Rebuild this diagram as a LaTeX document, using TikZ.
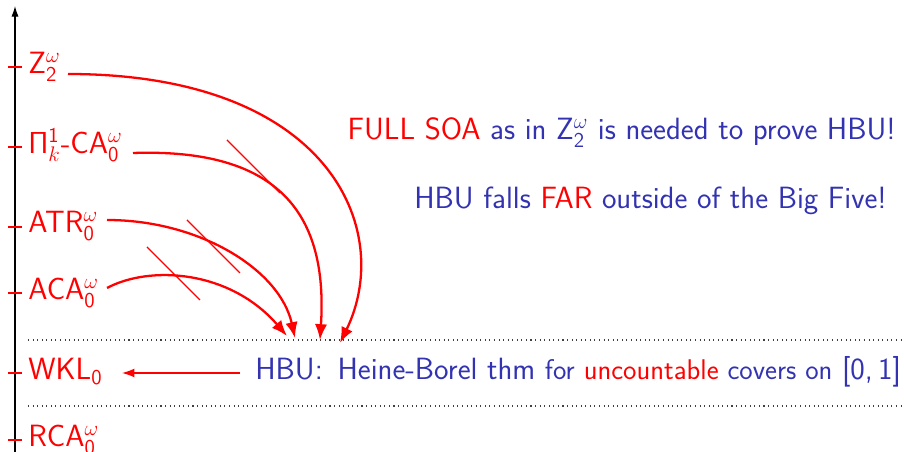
\documentclass[tikz,border=0pt]{standalone}
\usetikzlibrary{arrows.meta}
\definecolor{bblue}{rgb}{0.2,0.2,0.7}
\begin{document}
\begin{tikzpicture}[x=0.02cm,y=-0.02cm,
  font=\sffamily\fontsize{17.5}{20}\selectfont,
  lab/.style={text=red, anchor=base west, inner sep=0pt},
  txt/.style={text=bblue, anchor=base west, inner sep=0pt},
  tickmark/.style={red, line width=0.6pt},
  imp/.style={red, line width=1.3pt, -{Latex[length=9pt,width=7pt]}},
  nope/.style={red, line width=0.8pt},
  sep/.style={black!75, dotted, line width=0.6pt}]
\useasboundingbox (0,0) rectangle (904,452);
% axis
\coordinate (axb) at (15,452);
\coordinate (axt) at (15,6);
\draw[-{Latex[length=6pt,width=4pt]}, line width=0.6pt] (axb) -- (axt);
% ticks
\foreach \y in {67,147,227,293,373,440}
  \draw[tickmark] (8,\y) -- (22,\y);
% labels
\node[lab] (z2) at (28,74) {Z$^{\omega}_{\mathsf{2}}$};
\node[lab] (pi) at (28,154) {$\mathsf{\Pi}^{\mathsf{1}}_{k}$-CA$^{\omega}_{\mathsf{0}}$};
\node[lab] (atr) at (28,233) {ATR$^{\omega}_{\mathsf{0}}$};
\node[lab] (aca) at (28,300) {ACA$^{\omega}_{\mathsf{0}}$};
\node[lab] (wkl) at (28,380) {WKL$_{\mathsf{0}}$};
\node[lab] (rca) at (28,447) {RCA$^{\omega}_{\mathsf{0}}$};
% separators
\draw[sep] (28,340) -- (904,340);
\draw[sep] (28,406) -- (904,406);
% HBU
\node[txt] (hbu) at (255,380) {HBU:\ \,Heine-Borel thm {\fontsize{16.2}{19}\selectfont for \textcolor{red}{uncountable} covers on} [0,\,1]};
\coordinate (ws) at (240,373);
\coordinate (we) at (122,373);
\draw[red, line width=0.7pt, -{Latex[length=7pt,width=5pt]}] (ws) -- (we);
% right texts
\node[txt, anchor=base east] (t1) at (896,140) {\textcolor{red}{FULL SOA} as in Z$^{\omega}_{\mathsf{2}}$ is needed to prove HBU!};
\node[txt, anchor=base east] (t2) at (887,209) {HBU falls \textcolor{red}{FAR} outside of the Big Five!};
% implications
\coordinate (e1) at (340,343);
\coordinate (e2) at (320,340);
\coordinate (e3) at (295,338);
\coordinate (e4) at (287,336);
\draw[imp] (68,74) .. controls (330,74) and (395,230) .. (e1);
\draw[imp] (133,153) .. controls (280,148) and (328,215) .. (e2);
\draw[imp] (107,220) .. controls (200,220) and (280,270) .. (e3);
\draw[imp] (107,288) .. controls (150,265) and (230,270) .. (e4);
% strike-throughs
\draw[nope] (227,140) -- (280,193);
\draw[nope] (187,220) -- (240,273);
\draw[nope] (147,247) -- (200,300);
\end{tikzpicture}
\end{document}
